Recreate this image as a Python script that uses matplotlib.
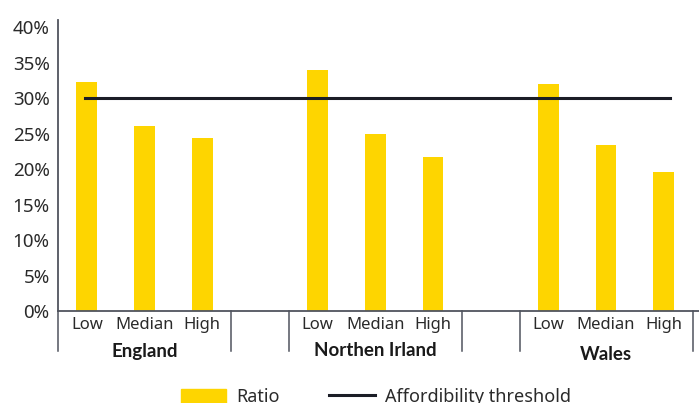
import numpy as np
import matplotlib
matplotlib.use('Agg')
import matplotlib.pyplot as plt
import matplotlib.transforms as mtransforms
from matplotlib.lines import Line2D
from matplotlib.patches import Patch

plt.rcParams['font.family'] = ['Noto Sans', 'DejaVu Sans']

# ratio of housing cost to income, per region and income band (%)
regions = ['England', 'Northen Irland', 'Wales']
bands = ['Low', 'Median', 'High']
england = [32.2, 26.1, 24.4]
northern_ireland = [33.9, 24.9, 21.7]
wales = [32.0, 23.4, 19.6]
threshold = 30.0

YELLOW = '#FED500'
DARK = '#1b1d26'
AXIS = '#50545e'
TEXT = '#2a2a2a'

fig = plt.figure(figsize=(6.99, 4.03), dpi=100)
ax = fig.add_axes([58 / 699, 92 / 403, 641 / 699, 291 / 403])

# three slots per region, one empty slot between regions
slots = [np.arange(3), np.arange(4, 7), np.arange(8, 11)]
values = [england, northern_ireland, wales]
for xs, vals in zip(slots, values):
    ax.bar(xs, vals, width=0.36, color=YELLOW, zorder=2)

ax.plot([-0.03, 10.1], [threshold, threshold], color=DARK, lw=2.2, zorder=3)

ax.set_xlim(-0.5, 10.61)
ax.set_ylim(0, 41)
ax.set_yticks(np.arange(0, 41, 5))
ax.set_yticklabels(['%d%%' % v for v in range(0, 41, 5)])
ax.tick_params(axis='y', length=0, pad=6, labelsize=13.5, labelcolor=TEXT)
ax.set_xticks([])

for side in ['top', 'right']:
    ax.spines[side].set_visible(False)
ax.spines['left'].set_color(AXIS)
ax.spines['bottom'].set_color(AXIS)
ax.spines['left'].set_linewidth(1.3)
ax.spines['bottom'].set_linewidth(1.3)

# two-level category axis
trans = mtransforms.blended_transform_factory(ax.transData, ax.transAxes)
for sep in [-0.5, 2.5, 3.5, 6.5, 7.5, 10.5]:
    ax.plot([sep, sep], [0, -0.138], transform=trans, color=AXIS, lw=1.1,
            clip_on=False)

for xs in slots:
    for x, band in zip(xs, bands):
        ax.annotate(band, xy=(x, 0), xycoords=trans, xytext=(0, -14),
                    textcoords='offset pixels', ha='center', va='center',
                    fontsize=12, color=TEXT)

group_dy = [-40, -39, -43]
for xs, name, dy in zip(slots, regions, group_dy):
    ax.annotate(name, xy=(xs[1], 0), xycoords=trans, xytext=(0, dy),
                textcoords='offset pixels', ha='center', va='center',
                fontsize=13.5, fontweight='bold', color='#1a1a1a',
                family=['Lato', 'DejaVu Sans'])

handles = [Patch(color=YELLOW, label='Ratio'),
           Line2D([], [], color=DARK, lw=2.2, label='Affordibility threshold')]
fig.legend(handles=handles, loc='center left', bbox_to_anchor=(165 / 699, 6 / 403),
           ncol=2, frameon=False, fontsize=13, handlelength=2.5,
           handleheight=0.8, handletextpad=0.55, columnspacing=2.75,
           labelcolor=TEXT)

fig.savefig('out.png', dpi=100)
